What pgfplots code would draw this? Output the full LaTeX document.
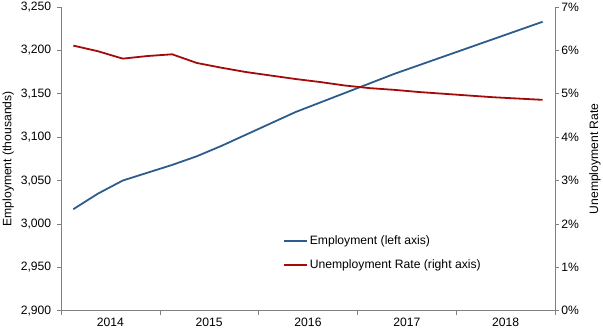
\documentclass[border=0pt]{standalone}
\usepackage{pgfplots}
\pgfplotsset{compat=1.18}
\usepackage{fontspec}
\setmainfont{Liberation Sans}
\definecolor{empblue}{RGB}{45,92,140}
\definecolor{unred}{RGB}{165,10,10}
\definecolor{axgray}{RGB}{128,128,128}
\pgfplotstableread{
x emp un
0.125 3017 6.11
0.375 3035 5.98
0.625 3050 5.81
0.875 3059 5.87
1.125 3068 5.91
1.375 3078 5.71
1.625 3090 5.60
1.875 3103 5.50
2.125 3116 5.42
2.375 3129 5.34
2.625 3140 5.27
2.875 3151 5.19
3.125 3162 5.13
3.375 3173 5.09
3.625 3183 5.04
3.875 3193 5.00
4.125 3203 4.96
4.375 3213 4.92
4.625 3223 4.89
4.875 3233 4.86
}\datatable
\newcommand{\chartfont}{\fontsize{12.2}{14}\selectfont}
\begin{document}
\chartfont
\begin{tikzpicture}
\path[use as bounding box] (-61bp,-20.3bp) rectangle (542bp,310.7bp);
\pgfplotsset{
  every axis/.append style={
    scale only axis, width=494bp, height=303.7bp,
    xmin=0, xmax=5,
    axis line style={axgray, line width=0.6pt},
    tick style={axgray, line width=0.6pt},
    major tick length=4bp,
    tick align=outside,
    ticklabel style={font=\chartfont, text=black},
    label style={font=\chartfont},
    /pgf/number format/assume math mode=true,
    /pgf/number format/1000 sep={,},
  }
}
\begin{axis}[
  axis y line*=left, axis x line*=bottom,
  ymin=2900, ymax=3250, ytick={2900,2950,...,3250},
  xtick={0,1,2,3,4,5}, xticklabels={},
  extra x ticks={0.5,1.5,2.5,3.5,4.5},
  extra x tick labels={2014,2015,2016,2017,2018},
  extra x tick style={major tick length=0pt, tick style={draw=none},
    xticklabel style={yshift=-3bp}},
  ylabel={Employment (thousands)},
  ylabel style={at={(axis description cs:-0.107,0.5)}, anchor=center, rotate=0},
  yticklabel style={xshift=-1.5bp},
]
\addplot[empblue, line width=1.8pt] table[x=x, y=emp] {\datatable};
\end{axis}
\begin{axis}[
  axis y line*=right, axis x line=none,
  ymin=0, ymax=7, ytick={0,1,...,7},
  yticklabel={\pgfmathprintnumber{\tick}\%},
  yticklabel style={xshift=-2bp},
  ylabel={Unemployment Rate},
  ylabel style={at={(axis description cs:1.081,0.5)}, anchor=center},
  legend style={draw=none, fill=none, at={(0.449,0.247)}, anchor=north west,
    font=\chartfont, row sep=13bp, inner sep=0pt,
    nodes={inner xsep=2bp, inner ysep=0pt},
    cells={anchor=west}},
  legend image code/.code={\draw[#1, line width=1.8pt] (0bp,0bp) -- (23bp,0bp);},
]
\addlegendimage{empblue}
\addlegendentry{Employment (left axis)}
\addplot[unred, line width=1.8pt] table[x=x, y=un] {\datatable};
\addlegendentry{Unemployment Rate (right axis)}
\end{axis}
\end{tikzpicture}
\end{document}
